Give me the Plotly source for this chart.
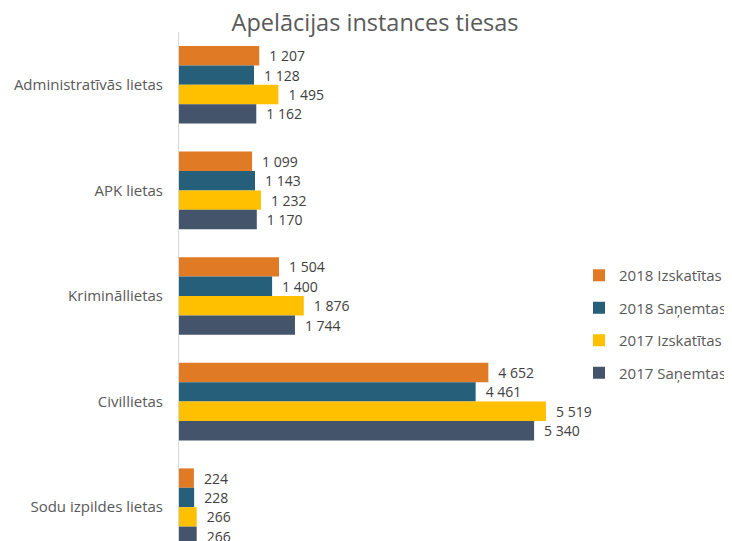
import plotly.graph_objects as go

categories = ["Administratīvās lietas", "APK lietas", "Krimināllietas", "Civillietas", "Sodu izpildes lietas"]
series_names = ["2018 Izskatītas", "2018 Saņemtas", "2017 Izskatītas", "2017 Saņemtas"]
izsk_2018 = [1207, 1099, 1504, 4652, 224]
san_2018 = [1128, 1143, 1400, 4461, 228]
izsk_2017 = [1495, 1232, 1876, 5519, 266]
san_2017 = [1162, 1170, 1744, 5340, 266]
colors = ["#E07A25", "#265F7A", "#FFC000", "#44546A"]

FONT = "'Open Sans', Lato, sans-serif"

def fmt(v):
    return "\u2002" + f"{v:,}".replace(",", " ")

fig = go.Figure()
for name, vals, col in zip(series_names, [izsk_2018, san_2018, izsk_2017, san_2017], colors):
    fig.add_trace(go.Bar(
        y=categories, x=vals, orientation="h", name=name,
        marker=dict(color=col, line=dict(width=0)),
        text=[fmt(v) for v in vals], textposition="outside",
        textfont=dict(family=FONT, size=14, color="#404040"),
        cliponaxis=True, legendgroup=name,
    ))

fig.update_layout(
    width=724, height=533,
    margin=dict(l=171, r=0, t=24, b=0),
    paper_bgcolor="white", plot_bgcolor="white",
    barmode="group", bargap=0.265, bargroupgap=0,
    title=dict(text="Apelācijas instances tiesas", x=0.507, xanchor="center",
               y=0.972, yanchor="middle",
               font=dict(family=FONT, size=23.5, color="#595959")),
    xaxis=dict(range=[0, 8316], showgrid=False, zeroline=False, showticklabels=False,
               showline=False, ticks=""),
    yaxis=dict(range=[4.32, -0.5], showgrid=False, zeroline=False, showline=True,
               linecolor="#D9D9D9", linewidth=1, ticks="",
               tickfont=dict(family=FONT, size=15, color="#595959"), ticklabelstandoff=12),
    legend=dict(x=1.0, xanchor="right", y=0.554, yanchor="top",
                bgcolor="rgba(0,0,0,0)",
                font=dict(family=FONT, size=15, color="#595959"),
                traceorder="grouped", tracegroupgap=10, itemwidth=30),
    showlegend=True,
)
fig.write_html("out.html")
